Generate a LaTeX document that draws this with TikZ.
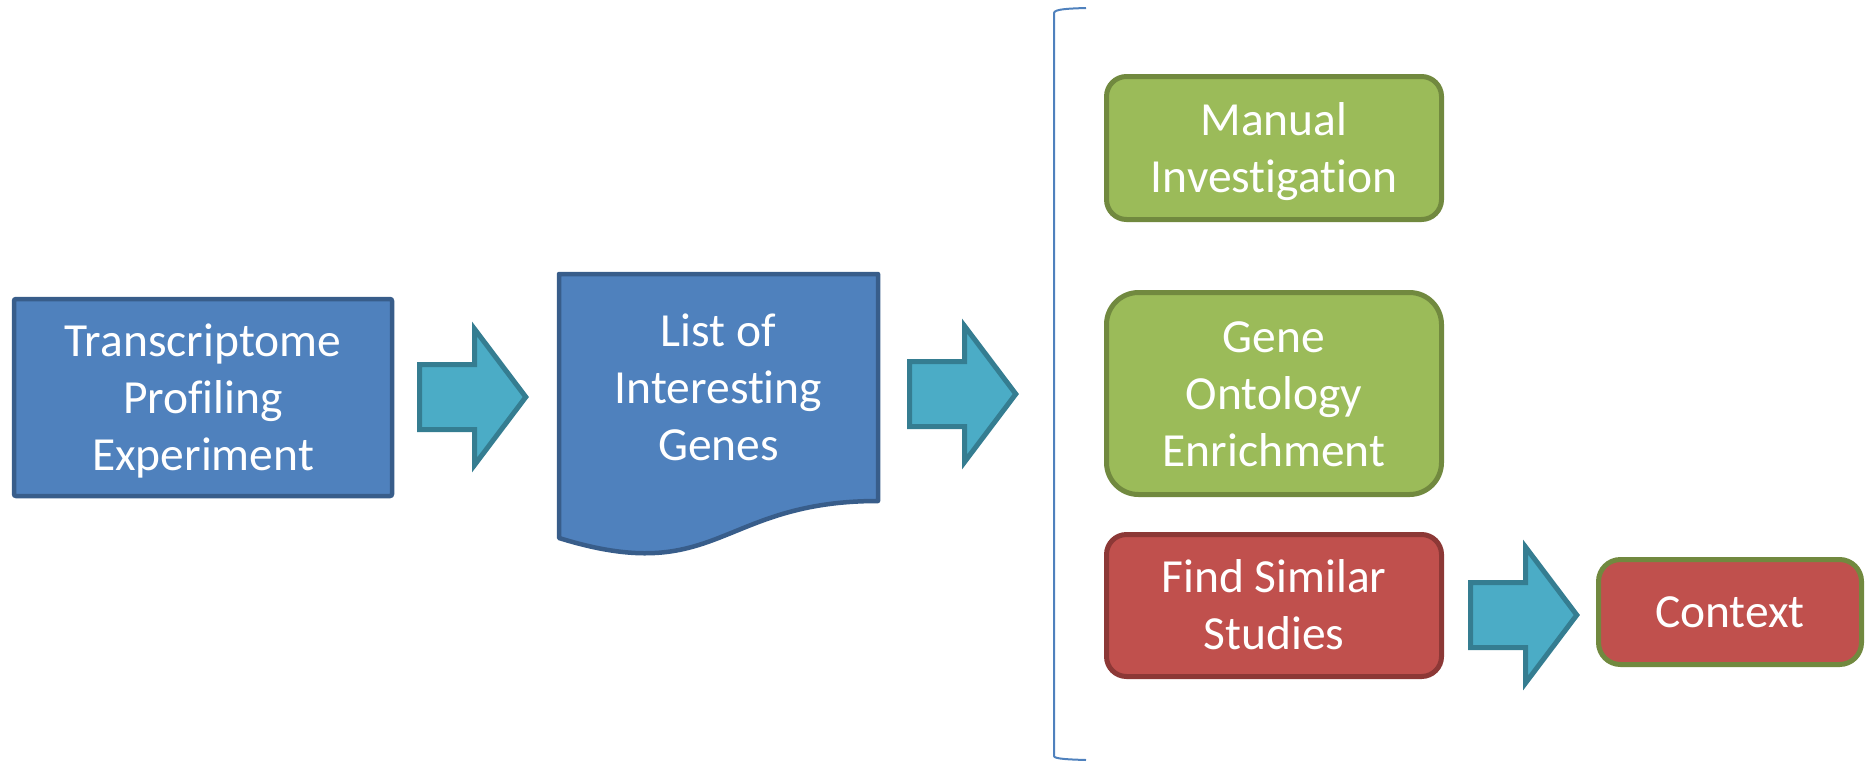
\documentclass[tikz,border=0pt]{standalone}
\usepackage{fontspec}
\setmainfont{Carlito}[Ligatures=NoCommon]
\definecolor{bfill}{HTML}{4F81BD}
\definecolor{bline}{HTML}{385D8A}
\definecolor{gfill}{HTML}{9BBB59}
\definecolor{gline}{HTML}{71893F}
\definecolor{rfill}{HTML}{C0504D}
\definecolor{rline}{HTML}{8C3836}
\definecolor{tfill}{HTML}{4BACC6}
\definecolor{tline}{HTML}{357D91}
\newcommand\topl{\rule{0pt}{48.9pt}}
\newcommand\botl{\rule[-17.1pt]{0pt}{17.1pt}}
\newcommand\blkarrow[1]{%
  \filldraw[arrowsty] ([shift={(-53.5,-32.5)}]#1) -- ([shift={(1.5,-32.5)}]#1)
    -- ([shift={(1.5,-68)}]#1) -- ([shift={(52.8,0)}]#1) -- ([shift={(1.5,68)}]#1)
    -- ([shift={(1.5,32.5)}]#1) -- ([shift={(-53.5,32.5)}]#1) -- cycle;}
\tikzset{
  lbl/.style={text=white, align=center, inner sep=0pt,
    font=\fontsize{47.5}{57}\selectfont},
  bluebox/.style={lbl, rectangle, fill=bfill, draw=bline, line width=4.5pt, rounded corners=2pt},
  greenbox/.style={lbl, rectangle, fill=gfill, draw=gline, line width=5pt, rounded corners=20pt,
    minimum width=335pt},
  redbox/.style={lbl, rectangle, fill=rfill, draw=rline, line width=5pt, rounded corners=20pt,
    minimum width=335pt},
  arrowsty/.style={fill=tfill, draw=tline, line width=5pt, line join=miter},
  docsty/.style={fill=bfill, draw=bline, line width=4.5pt, line join=round},
  brack/.style={draw=bfill, line width=2pt}
}
\begin{document}
\begin{tikzpicture}[x=1pt,y=-1pt]
\useasboundingbox (0,0) rectangle (1866,761);
% box 1
\node[bluebox, minimum width=378pt, minimum height=197pt] (tpe) at (203,397.5)
  {\topl Transcriptome\\Profiling\\Experiment\botl};
% document shape
\filldraw[docsty] (559,274) -- (878,274) -- (878,501)
  .. controls (718.5,501) and (718.5,587.4) .. (559,538) -- cycle;
\node[lbl] (doc) at (718.5,388) {\topl List of\\Interesting\\Genes\botl};
% arrows
\coordinate (a1) at (473,397);
\coordinate (a2) at (963,394);
\coordinate (a3) at (1524,615);
\blkarrow{a1}
\blkarrow{a2}
\blkarrow{a3}
% bracket
\draw[brack] (1086,8) .. controls (1070,8.5) and (1054,9) .. (1054,13) -- (1054,756)
  .. controls (1054,759) and (1070,759.5) .. (1086,760);
% right boxes
\node[greenbox, minimum height=143pt] (man) at (1274,148)
  {\topl Manual\\Investigation\botl};
\node[greenbox, minimum height=202pt, rounded corners=32pt] (go) at (1274,393.5)
  {\topl Gene\\Ontology\\Enrichment\botl};
\node[redbox, minimum height=142pt] (fss) at (1274,605.5)
  {\topl Find Similar\\Studies\botl};
\node[lbl, rectangle, fill=rfill, draw=gline, line width=5pt, rounded corners=22pt,
  minimum width=263pt, minimum height=105pt] (ctx) at (1730,612)
  {\topl Context\botl};
\end{tikzpicture}
\end{document}
